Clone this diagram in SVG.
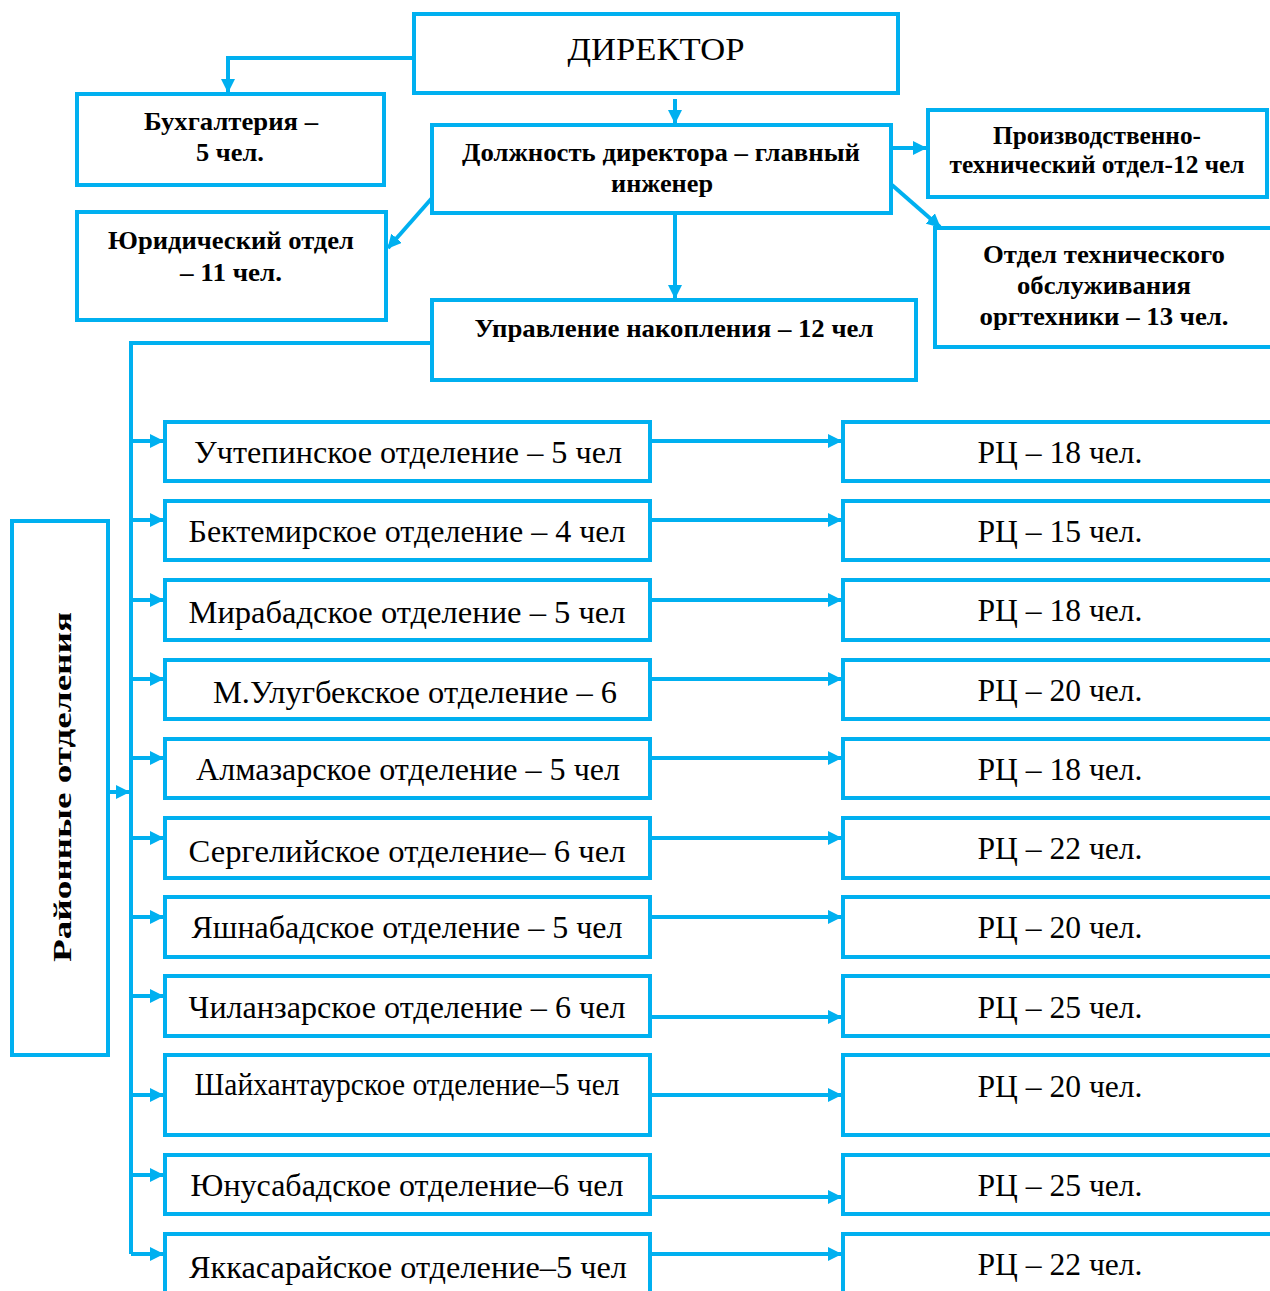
<svg xmlns="http://www.w3.org/2000/svg" width="1270" height="1291" viewBox="0 0 1270 1291">
<defs>
<style>
.box{fill:#fff;stroke:#00B0F0;stroke-width:4}
.ln{fill:none;stroke:#00B0F0;stroke-width:4;marker-end:url(#ah)}
.ln0{fill:none;stroke:#00B0F0;stroke-width:4}
.b{font-family:"Liberation Serif","Times New Roman",serif;font-weight:bold;font-size:25px;fill:#000;text-anchor:middle}
.r{font-family:"Liberation Serif","Times New Roman",serif;font-size:31px;fill:#000;text-anchor:middle}
</style>
<marker id="ah" viewBox="0 0 14 14" refX="13" refY="7" markerWidth="14" markerHeight="14" markerUnits="userSpaceOnUse" orient="auto">
<path d="M0,0 L14,7 L0,14 z" fill="#00B0F0"/>
</marker>
</defs>
<rect width="1270" height="1291" fill="#fff"/>

<g id="connectors">
<path class="ln" d="M414,58 H228 V92"/>
<path class="ln" d="M675,99 V123"/>
<path class="ln" d="M432,198 L388,248"/>
<path class="ln" d="M891,148 H926"/>
<path class="ln" d="M892,185 L940,227"/>
<path class="ln" d="M675,213 V298"/>
<path class="ln0" d="M432,343 H131 V1254"/>
<path class="ln" d="M108,792 H129"/>
<path class="ln" d="M131,441 H163"/>
<path class="ln" d="M131,520 H163"/>
<path class="ln" d="M131,600 H163"/>
<path class="ln" d="M131,679 H163"/>
<path class="ln" d="M131,758 H163"/>
<path class="ln" d="M131,838 H163"/>
<path class="ln" d="M131,917 H163"/>
<path class="ln" d="M131,996 H163"/>
<path class="ln" d="M131,1095 H163"/>
<path class="ln" d="M131,1175 H163"/>
<path class="ln" d="M131,1254 H163"/>
<path class="ln" d="M650,441 H841"/>
<path class="ln" d="M650,520 H841"/>
<path class="ln" d="M650,600 H841"/>
<path class="ln" d="M650,679 H841"/>
<path class="ln" d="M650,758 H841"/>
<path class="ln" d="M650,838 H841"/>
<path class="ln" d="M650,917 H841"/>
<path class="ln" d="M650,1017 H841"/>
<path class="ln" d="M650,1095 H841"/>
<path class="ln" d="M650,1197 H841"/>
<path class="ln" d="M650,1254 H841"/>
</g>

<g id="director">
<rect class="box" x="414" y="14" width="484" height="79"/>
<text class="r" x="656" y="60" font-size="36" textLength="177" lengthAdjust="spacingAndGlyphs">ДИРЕКТОР</text>
</g>
<g id="buh">
<rect class="box" x="77" y="94" width="307" height="91"/>
<text class="b" x="231" y="130" textLength="174" lengthAdjust="spacingAndGlyphs">Бухгалтерия –</text>
<text class="b" x="230" y="161" textLength="68" lengthAdjust="spacingAndGlyphs">5 чел.</text>
</g>
<g id="deputy">
<rect class="box" x="432" y="125" width="459" height="88"/>
<text class="b" x="661" y="161" textLength="398" lengthAdjust="spacingAndGlyphs">Должность директора – главный</text>
<text class="b" x="662" y="192" textLength="102" lengthAdjust="spacingAndGlyphs">инженер</text>
</g>
<g id="legal">
<rect class="box" x="77" y="212" width="309" height="108"/>
<text class="b" x="231" y="249" textLength="246" lengthAdjust="spacingAndGlyphs">Юридический отдел</text>
<text class="b" x="231" y="281" textLength="102" lengthAdjust="spacingAndGlyphs">– 11 чел.</text>
</g>
<g id="pto">
<rect class="box" x="928" y="110" width="339" height="87"/>
<text class="b" x="1097" y="144" textLength="208" lengthAdjust="spacingAndGlyphs">Производственно-</text>
<text class="b" x="1097" y="173" textLength="295" lengthAdjust="spacingAndGlyphs">технический отдел-12 чел</text>
</g>
<g id="oto">
<rect class="box" x="935" y="228" width="360" height="119"/>
<text class="b" x="1104" y="263" textLength="242" lengthAdjust="spacingAndGlyphs">Отдел технического</text>
<text class="b" x="1104" y="294" textLength="174" lengthAdjust="spacingAndGlyphs">обслуживания</text>
<text class="b" x="1104" y="325" textLength="249" lengthAdjust="spacingAndGlyphs">оргтехники – 13 чел.</text>
</g>
<g id="accum">
<rect class="box" x="432" y="300" width="484" height="80"/>
<text class="b" x="674" y="337" textLength="399" lengthAdjust="spacingAndGlyphs">Управление накопления – 12 чел</text>
</g>
<g id="districts">
<rect class="box" x="12" y="521" width="96" height="534"/>
<text class="b" transform="translate(71,787) rotate(-90)" font-size="37" textLength="350" lengthAdjust="spacingAndGlyphs">Районные отделения</text>
</g>

<g id="d1"><rect class="box" x="165" y="422" width="485" height="59"/><text class="r" x="408" y="463" textLength="428" lengthAdjust="spacingAndGlyphs">Учтепинское отделение – 5 чел</text></g>
<g id="d2"><rect class="box" x="165" y="501" width="485" height="59"/><text class="r" x="407" y="542" textLength="437" lengthAdjust="spacingAndGlyphs">Бектемирское отделение – 4 чел</text></g>
<g id="d3"><rect class="box" x="165" y="580" width="485" height="60"/><text class="r" x="407" y="623" textLength="437" lengthAdjust="spacingAndGlyphs">Мирабадское отделение – 5 чел</text></g>
<g id="d4"><rect class="box" x="165" y="660" width="485" height="59"/><text class="r" x="415" y="703" textLength="404" lengthAdjust="spacingAndGlyphs">М.Улугбекское отделение – 6</text></g>
<g id="d5"><rect class="box" x="165" y="739" width="485" height="59"/><text class="r" x="408" y="780" textLength="424" lengthAdjust="spacingAndGlyphs">Алмазарское отделение – 5 чел</text></g>
<g id="d6"><rect class="box" x="165" y="818" width="485" height="60"/><text class="r" x="407" y="862" textLength="437" lengthAdjust="spacingAndGlyphs">Сергелийское отделение– 6 чел</text></g>
<g id="d7"><rect class="box" x="165" y="897" width="485" height="60"/><text class="r" x="407" y="938" textLength="431" lengthAdjust="spacingAndGlyphs">Яшнабадское отделение – 5 чел</text></g>
<g id="d8"><rect class="box" x="165" y="976" width="485" height="60"/><text class="r" x="407" y="1018" textLength="437" lengthAdjust="spacingAndGlyphs">Чиланзарское отделение – 6 чел</text></g>
<g id="d9"><rect class="box" x="165" y="1055" width="485" height="80"/><text class="r" x="407" y="1095" font-size="28" textLength="425" lengthAdjust="spacingAndGlyphs">Шайхантаурское отделение–5 чел</text></g>
<g id="d10"><rect class="box" x="165" y="1155" width="485" height="59"/><text class="r" x="407" y="1196" textLength="433" lengthAdjust="spacingAndGlyphs">Юнусабадское отделение–6 чел</text></g>
<g id="d11"><rect class="box" x="165" y="1234" width="485" height="70"/><text class="r" x="408" y="1278" textLength="438" lengthAdjust="spacingAndGlyphs">Яккасарайское отделение–5 чел</text></g>

<g id="rc1"><rect class="box" x="843" y="422" width="450" height="59"/><text class="r" x="1060" y="463" textLength="165" lengthAdjust="spacingAndGlyphs">РЦ – 18 чел.</text></g>
<g id="rc2"><rect class="box" x="843" y="501" width="450" height="59"/><text class="r" x="1060" y="542" textLength="165" lengthAdjust="spacingAndGlyphs">РЦ – 15 чел.</text></g>
<g id="rc3"><rect class="box" x="843" y="580" width="450" height="60"/><text class="r" x="1060" y="621" textLength="165" lengthAdjust="spacingAndGlyphs">РЦ – 18 чел.</text></g>
<g id="rc4"><rect class="box" x="843" y="660" width="450" height="59"/><text class="r" x="1060" y="701" textLength="165" lengthAdjust="spacingAndGlyphs">РЦ – 20 чел.</text></g>
<g id="rc5"><rect class="box" x="843" y="739" width="450" height="59"/><text class="r" x="1060" y="780" textLength="165" lengthAdjust="spacingAndGlyphs">РЦ – 18 чел.</text></g>
<g id="rc6"><rect class="box" x="843" y="818" width="450" height="60"/><text class="r" x="1060" y="859" textLength="165" lengthAdjust="spacingAndGlyphs">РЦ – 22 чел.</text></g>
<g id="rc7"><rect class="box" x="843" y="897" width="450" height="60"/><text class="r" x="1060" y="938" textLength="165" lengthAdjust="spacingAndGlyphs">РЦ – 20 чел.</text></g>
<g id="rc8"><rect class="box" x="843" y="976" width="450" height="60"/><text class="r" x="1060" y="1018" textLength="165" lengthAdjust="spacingAndGlyphs">РЦ – 25 чел.</text></g>
<g id="rc9"><rect class="box" x="843" y="1055" width="450" height="80"/><text class="r" x="1060" y="1097" textLength="165" lengthAdjust="spacingAndGlyphs">РЦ – 20 чел.</text></g>
<g id="rc10"><rect class="box" x="843" y="1155" width="450" height="59"/><text class="r" x="1060" y="1196" textLength="165" lengthAdjust="spacingAndGlyphs">РЦ – 25 чел.</text></g>
<g id="rc11"><rect class="box" x="843" y="1234" width="450" height="70"/><text class="r" x="1060" y="1275" textLength="165" lengthAdjust="spacingAndGlyphs">РЦ – 22 чел.</text></g>
</svg>
